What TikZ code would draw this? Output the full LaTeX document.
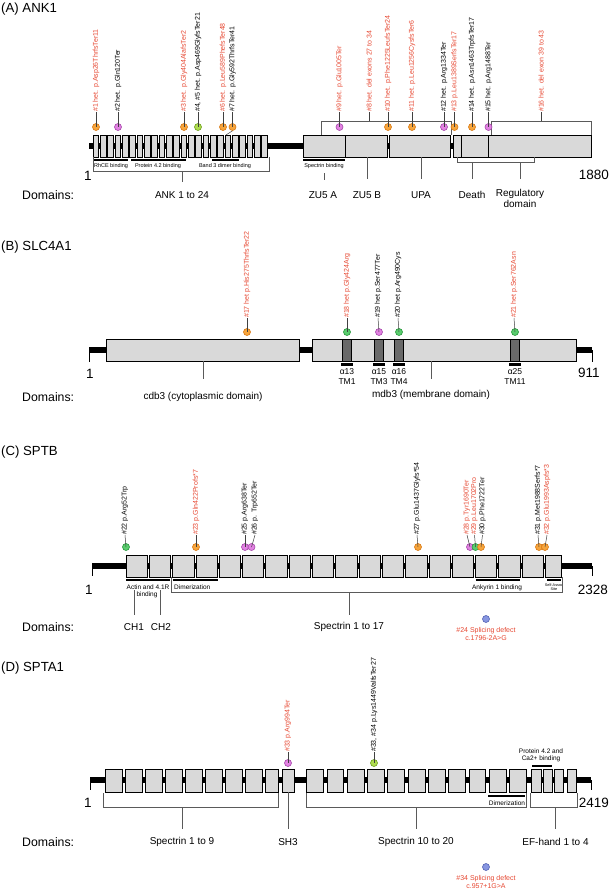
\documentclass[tikz,border=0pt]{standalone}
\usepackage{fontspec}
\setmainfont{Liberation Sans}
\definecolor{mred}{RGB}{230,72,50}
\definecolor{dorF}{RGB}{247,165,60}\definecolor{dorD}{RGB}{215,120,20}
\definecolor{dmgF}{RGB}{226,130,226}\definecolor{dmgD}{RGB}{165,70,170}
\definecolor{dgrF}{RGB}{90,205,110}\definecolor{dgrD}{RGB}{40,150,60}
\definecolor{dlmF}{RGB}{175,220,80}\definecolor{dlmD}{RGB}{110,160,30}
\definecolor{dblF}{RGB}{135,150,225}\definecolor{dblD}{RGB}{85,100,180}
\definecolor{boxF}{RGB}{217,217,217}
\definecolor{tmF}{RGB}{105,105,105}
\definecolor{brkC}{RGB}{90,90,90}
\newcommand\fsz[1]{\fontsize{#1}{#1}\selectfont}
\begin{document}
\begin{tikzpicture}[x=1pt,y=-1pt,
  bb/.style={line width=5.5pt,black},
  rep/.style={draw=black,fill=boxF,line width=0.7pt},
  tm/.style={draw=black,fill=tmF,line width=0.6pt},
  brk/.style={draw=brkC,line width=0.6pt},
  bar/.style={line width=2.4pt,black},
  tick/.style={line width=0.6pt,black},
  lab/.style={rotate=90,anchor=west,inner sep=0pt,font=\fsz{7}},
  rl/.style={lab,text=mred},
  bl/.style={lab,text=black},
  stem/.style={draw=black!75,line width=0.5pt},
  dot/.style={circle,minimum size=7pt,inner sep=0pt,line width=0.6pt},
  dor/.style={dot,fill=dorF,draw=dorD},
  dmg/.style={dot,fill=dmgF,draw=dmgD},
  dgr/.style={dot,fill=dgrF,draw=dgrD},
  dlm/.style={dot,fill=dlmF,draw=dlmD},
  dbl/.style={dot,fill=dblF,draw=dblD},
  title/.style={anchor=west,inner sep=0pt,font=\fsz{13.2}},
  dlabel/.style={anchor=west,inner sep=0pt,font=\fsz{12.3}},
  dom/.style={inner sep=0pt,font=\fsz{10},align=center},
  num/.style={inner sep=0pt,font=\fsz{13.5}},
  tiny/.style={inner sep=0pt,font=\fsz{5.5}},
  small/.style={inner sep=0pt,font=\fsz{6.5},align=center},
  sub/.style={inner sep=0pt,font=\fsz{8.5}},
  splice/.style={inner sep=0pt,font=\fsz{7},text=mred,align=center}
]
\useasboundingbox (0,0) rectangle (611,892);

%% ================= (A) ANK1 =================
\node[title] (tA) at (1,9) {(A) ANK1};
\draw[bb] (89,146) -- (591,146);
\foreach \i in {0,...,23}{\draw[rep] ({93+\i*7.33},135) rectangle ++(5.6,22);}
\draw[rep] (303,135) rectangle (345,157);
\draw[rep] (345,135) rectangle (387,157);
\draw[rep] (389.5,135) rectangle (450.5,157);
\draw[rep] (453.5,135) rectangle (461,157);
\draw[rep] (461,135) rectangle (488,157);
\draw[rep] (488,135) rectangle (591,157);
% binding bars
\draw[bar] (94,160) -- (128,160);
\draw[bar] (131,160) -- (186,160);
\draw[bar] (212,160) -- (239,160);
\draw[bar] (303,160) -- (345,160);
\node[tiny] (bA1) at (111,166) {RhCE binding};
\node[tiny] (bA2) at (158,166) {Protein 4.2 binding};
\node[tiny] (bA3) at (225,166) {Band 3 dimer binding};
\node[tiny] (bA4) at (324,166) {Spectrin binding};
% domain brackets
\draw[brk] (93,157) -- (93,171) -- (269,171) -- (269,157);
\draw[brk] (182,171) -- (182,182);
\draw[brk] (324,173) -- (324,180);
\draw[brk] (367,157) -- (367,179);
\draw[brk] (421,157) -- (421,179);
\draw[brk] (457,157) -- (457,162) -- (534,162) -- (534,157);
\draw[brk] (472,162) -- (472,179);
\draw[brk] (520,162) -- (520,179);
\draw[brk] (321,135) -- (321,121) -- (451,121) -- (451,135);
\draw[brk] (491,135) -- (491,121) -- (591,121) -- (591,135);
\coordinate (k8) at (369,121);
\coordinate (k16) at (541,121);
% numbers and domain labels
\node[num] (nA1) at (88,176) {1};
\node[num,anchor=east] (nA2) at (609,175) {1880};
\node[dlabel] (DA) at (22,195) {Domains:};
\node[dom] (dA1) at (182,195) {ANK 1 to 24};
\node[dom] (dA2) at (323,195) {ZU5 A};
\node[dom] (dA3) at (367,195) {ZU5 B};
\node[dom] (dA4) at (421,195) {UPA};
\node[dom] (dA5) at (472,195) {Death};
\node[dom,anchor=north] (dA6) at (520,189.5) {Regulatory\\[0.8pt]domain};
% mutations
\node[dor] (c1) at (96,127) {};
\node[dmg] (c2) at (118,127) {};
\node[dor] (c3) at (184,127) {};
\node[dlm] (c4) at (198,127) {};
\node[dor] (c6) at (223,127) {};
\node[dor] (c7) at (232.5,127) {};
\node[dmg] (c9) at (339.5,127) {};
\node[dor] (c10) at (388,127) {};
\node[dor] (c11) at (412,127) {};
\node[dmg] (c12) at (444,127) {};
\node[dor] (c13) at (454.5,127) {};
\node[dor] (c14) at (472,127) {};
\node[dmg] (c15) at (488.5,127) {};
\node[rl] (l1) at (96,112) {\#1 het. p.Asp26ThrfsTer11};
\node[bl] (l2) at (118,112) {\#2 het. p.Gln120Ter};
\node[rl] (l3) at (184,112) {\#3 het. p.Gly404AlafsTer2};
\node[bl] (l4) at (198,112) {\#4, \#5 het. p.Asp469GlyfsTer21};
\node[rl] (l6) at (223,112) {\#6 het. p.Leu589PhefsTer48};
\node[bl] (l7) at (232.5,112) {\#7 het. p.Gly592ThrfsTer41};
\node[rl] (l9) at (339.5,112) {\#9 het. p.Glu1005Ter};
\node[rl] (l8) at (369,112) {\#8 het. del exons 27 to 34};
\node[rl] (l10) at (388,112) {\#10 het. p.Phe1225LeufsTer24};
\node[rl] (l11) at (412,112) {\#11 het. p.Leu1256CysfsTer6};
\node[bl] (l12) at (444,112) {\#12 het. p.Arg1334Ter};
\node[rl] (l13) at (454.5,112) {\#13 p.Leu1389SerfsTer17};
\node[bl] (l14) at (472,112) {\#14 het. p.Asn1463TrpfsTer17};
\node[bl] (l15) at (488.5,112) {\#15 het. p.Arg1488Ter};
\node[rl] (l16) at (541,112) {\#16 het. del exon 39 to 43};
\foreach \k in {1,2,3,4,6,7,9,10,11,12,13,14,15}{\draw[stem] (l\k.west) -- (c\k.center);}
\draw[stem] (l8.west) -- (k8);
\draw[stem] (l16.west) -- (k16);
\coordinate (p7) at (226,135);
\draw[stem] (c7.south) -- (p7);

%% ================= (B) SLC4A1 =================
\node[title] (tB) at (1,247) {(B) SLC4A1};
\draw[bb] (89,350) -- (592,350);
\draw[tick] (89,350) -- (89,362);
\draw[tick] (592,350) -- (592,362);
\draw[rep] (106,339) rectangle (299,361);
\draw[rep] (312,339) rectangle (576,361);
\draw[tm] (342.5,339) rectangle (351.5,361);
\draw[tm] (374.5,339) rectangle (383.5,361);
\draw[tm] (394.5,339) rectangle (403.5,361);
\draw[tm] (510.5,339) rectangle (519.5,361);
\draw[bar] (341,364.5) -- (353,364.5);
\draw[bar] (373,364.5) -- (385,364.5);
\draw[bar] (393,364.5) -- (405,364.5);
\draw[bar] (509,364.5) -- (521,364.5);
\node[sub] (aB1) at (347,372) {α13};
\node[sub] (aB2) at (379,372) {α15};
\node[sub] (aB3) at (399,372) {α16};
\node[sub] (aB4) at (515,372) {α25};
\node[sub] (tB1) at (347,382) {TM1};
\node[sub] (tB2) at (379,382) {TM3};
\node[sub] (tB3) at (399,382) {TM4};
\node[sub] (tB4) at (515,382) {TM11};
\draw[brk] (203,361) -- (203,379);
\draw[brk] (431,361) -- (431,379);
\node[num] (nB1) at (90,374) {1};
\node[num,anchor=west] (nB2) at (578,373) {911};
\node[dlabel] (DB) at (22,397) {Domains:};
\node[dom] (dB1) at (203,397) {cdb3 (cytoplasmic domain)};
\node[dom] (dB2) at (431,394.5) {mdb3 (membrane domain)};
\node[dor] (c17) at (247,332) {};
\node[dgr] (c18) at (347,332) {};
\node[dmg] (c19) at (379,332) {};
\node[dgr] (c20) at (399,332) {};
\node[dgr] (c21) at (515,332) {};
\node[rl] (l17) at (247,318) {\#17 het p.His275ThrfsTer22};
\node[rl] (l18) at (347,318) {\#18 het p.Gly424Arg};
\node[bl] (l19) at (378,318) {\#19 het p.Ser477Ter};
\node[bl] (l20) at (398,318) {\#20 het p.Arg490Cys};
\node[rl] (l21) at (514,318) {\#21 het p.Ser762Asn};
\foreach \k in {17,18,19,20,21}{\draw[stem] (l\k.west) -- (c\k.center);}

%% ================= (C) SPTB =================
\node[title] (tC) at (1,452) {(C) SPTB};
\draw[bb] (92,566) -- (592,566);
\draw[tick] (92,566) -- (92,576);
\draw[tick] (592,566) -- (592,576);
\foreach \i in {0,...,17}{\draw[rep] ({126+\i*23.3},555) rectangle ++(21.3,22);}
\draw[rep] (545.5,555) rectangle (561,577);
\draw[bar] (126,580) -- (170,580);
\draw[bar] (172.6,580) -- (217.5,580);
\draw[bar] (475.5,580) -- (520,580);
\draw[bar] (547,580) -- (561,580);
\node[small] (bC1) at (148,587.5) {Actin and 4.1R};
\node[small] (bC2) at (147,595) {binding};
\node[small,anchor=west] (bC3) at (174,587.5) {Dimerization};
\node[small] (bC4) at (497,587.5) {Ankyrin 1 binding};
\node[inner sep=0pt,font=\fsz{3.8},align=center] (bC5) at (554,587.5) {Self-Assoc\\Site};
\draw[brk] (171,577) -- (171,592) -- (562,592) -- (562,577);
\draw[brk] (349,592) -- (349,615);
\draw[brk] (134,590) -- (134,615);
\draw[brk] (160,590) -- (160,615);
\node[num] (nC1) at (89,590) {1};
\node[num,anchor=east] (nC2) at (608,590) {2328};
\node[dlabel] (DC) at (22,627) {Domains:};
\node[dom] (dC1) at (134,627) {CH1};
\node[dom] (dC2) at (161,627) {CH2};
\node[dom] (dC3) at (349,627) {Spectrin 1 to 17};
\node[dgr] (c22) at (126,547) {};
\node[dor] (c23) at (196,547) {};
\node[dmg] (c25) at (245,547) {};
\node[dmg] (c26) at (251.5,547) {};
\node[dor] (c27) at (418,547) {};
\node[dmg] (c28) at (470,547) {};
\node[dgr] (c29) at (475.5,547) {};
\node[dor] (c30) at (481,547) {};
\node[dor] (c31) at (539,547) {};
\node[dor] (c32) at (545,547) {};
\node[bl] (l22) at (125,535) {\#22 p.Arg52Trp};
\node[rl] (l23) at (196,535) {\#23 p.Gln422Profs*7};
\node[bl] (l25) at (245,535) {\#25 p.Arg638Ter};
\node[bl] (l26) at (255,535) {\#26 p. Trp652Ter};
\node[bl] (l27) at (417,535) {\#27 p.Glu1437Glyfs*54};
\node[rl] (l28) at (467,535) {\#28 p.Tyr1690Ter};
\node[rl] (l29) at (474.5,535) {\#29 p.Leu1702Pro};
\node[bl] (l30) at (482.5,535) {\#30 p.Phe1722Ter};
\node[bl] (l31) at (538,535) {\#31 p.Met1988Serfs*7};
\node[rl] (l32) at (547,535) {\#32 p.Glu1993Aspfs*3};
\foreach \k in {22,23,25,26,27,28,29,30,31,32}{\draw[stem] (l\k.west) -- (c\k.center);}
\node[dbl] (c24) at (486,619) {};
\node[splice] (l24) at (486,634) {\#24 Splicing defect\\[0.5pt]c.1796-2A>G};

%% ================= (D) SPTA1 =================
\node[title] (tD) at (1,668) {(D) SPTA1};
\draw[bb] (90,780) -- (591,780);
\draw[tick] (90,780) -- (90,790);
\draw[tick] (591,780) -- (591,790);
\foreach \i in {0,...,7}{\draw[rep] ({105.5+\i*20},769) rectangle ++(16.8,23);}
\draw[rep] (265.6,769) rectangle (278,792);
\draw[rep] (282,769) rectangle (294,792);
\foreach \i in {0,...,10}{\draw[rep] ({306.6+\i*20.3},769) rectangle ++(16.8,23);}
\draw[rep] (531,769) rectangle (541,792);
\draw[rep] (543.7,769) rectangle (552.7,792);
\draw[rep] (554.7,769) rectangle (563.3,792);
\draw[rep] (567.2,769) rectangle (576.6,792);
\draw[bar] (488,796) -- (525,796);
\node[small] (bD1) at (507,803) {Dimerization};
\draw[bar] (532,766) -- (551.5,766);
\node[small] (bD2) at (541,755) {Protein 4.2 and\\[0.5pt]Ca2+ binding};
\draw[brk] (103.5,793) -- (103.5,807) -- (278,807) -- (278,793);
\draw[brk] (182,807) -- (182,829);
\draw[brk] (288,792) -- (288,829);
\draw[brk] (306.6,793) -- (306.6,807) -- (526.6,807) -- (526.6,793);
\draw[brk] (416,807) -- (416,829);
\draw[brk] (530,793) -- (530,807) -- (577,807) -- (577,793);
\draw[brk] (555.5,807) -- (555.5,829);
\node[num] (nD1) at (88,803) {1};
\node[num,anchor=east] (nD2) at (609,803) {2419};
\node[dlabel] (DD) at (22,842) {Domains:};
\node[dom] (dD1) at (182,842) {Spectrin 1 to 9};
\node[dom] (dD2) at (288,842) {SH3};
\node[dom] (dD3) at (416,842) {Spectrin 10 to 20};
\node[dom] (dD4) at (555.5,842) {EF-hand 1 to 4};
\node[dmg] (c33) at (288,763) {};
\node[dlm] (c35) at (374,763) {};
\node[rl] (l33) at (288,752) {\#33 p.Arg994Ter};
\node[bl] (l35) at (374,752) {\#33, \#34 p.Lys1449ValfsTer27};
\draw[stem] (l33.west) -- (c33.center);
\draw[stem] (l35.west) -- (c35.center);
\node[dbl] (c34) at (486,867) {};
\node[splice] (l34) at (486,882) {\#34 Splicing defect\\[0.5pt]c.957+1G>A};
\end{tikzpicture}
\end{document}
